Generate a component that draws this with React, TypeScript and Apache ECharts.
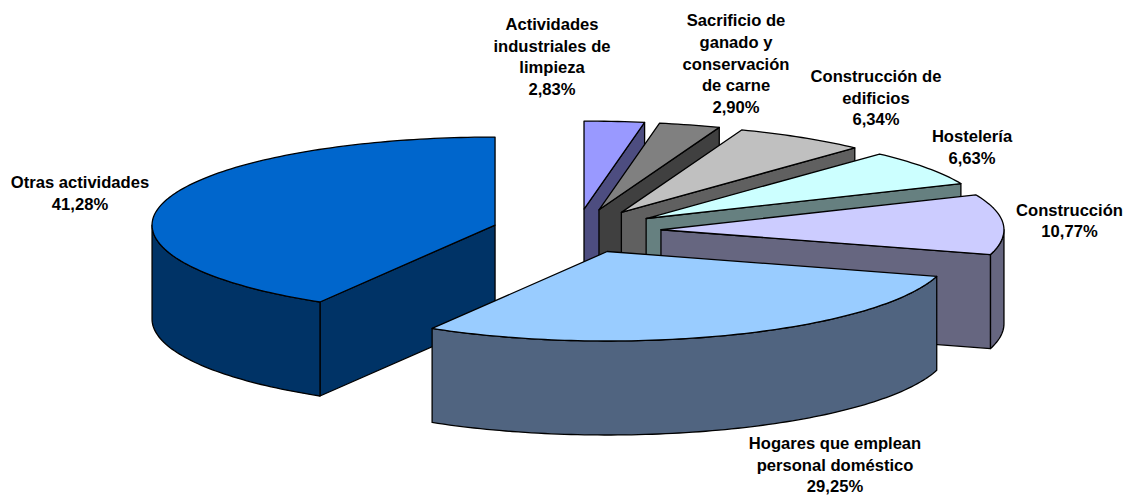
import React, { useEffect, useRef } from "react";
import * as echarts from "echarts";

const categories = [
  "Actividades industriales de limpieza",
  "Sacrificio de ganado y conservación de carne",
  "Construcción de edificios",
  "Hostelería",
  "Construcción",
  "Hogares que emplean personal doméstico",
  "Otras actividades",
];
const values = [2.83, 2.9, 6.34, 6.63, 10.77, 29.25, 41.28];
const topColors = ["#9999FF", "#808080", "#C0C0C0", "#CCFFFF", "#CCCCFF", "#99CCFF", "#0066CC"];
const sideColors = ["#4D4D80", "#404040", "#606060", "#668080", "#666680", "#506480", "#003366"];
const labelLines = [
  ["Actividades", "industriales de", "limpieza"],
  ["Sacrificio de", "ganado y", "conservación", "de carne"],
  ["Construcción de", "edificios"],
  ["Hostelería"],
  ["Construcción"],
  ["Hogares que emplean", "personal doméstico"],
  ["Otras actividades"],
];
const labelCentres = [
  [552, 57],
  [736, 64],
  [876, 98],
  [972, 147.5],
  [1069.5, 221],
  [835, 465],
  [80, 193.5],
];

const CX = 576.5;
const CY = 231;
const RX = 343;
const RY_BACK = 88;
const RY_FRONT = 89.5;
const EX = 84.6;
const EY = 22;
const DEPTH = 94;
const WARP_FRONT = (0.79 * Math.PI) / 180;
const WARP_BACK = (1.2 * Math.PI) / 180;
const DRAW_ORDER = [6, 0, 1, 2, 3, 4, 5];

const fmt = (v: number) => v.toFixed(2).replace(".", ",") + "%";

function renderSlice(params: any, api: any) {
  const i = api.value(0);
  const total = values.reduce((a, b) => a + b, 0);
  const before = values.slice(0, i).reduce((a, b) => a + b, 0);
  const a0 = (before / total) * Math.PI * 2;
  const a1 = ((before + api.value(1)) / total) * Math.PI * 2;
  const mid = (a0 + a1) / 2;
  const ax = CX + EX * Math.sin(mid);
  const ay = CY - EY * Math.cos(mid);
  const pt = (t: number, dz = 0) => {
    let u = t;
    if (t > Math.PI && t < (Math.PI * 3) / 2) {
      u = t - WARP_FRONT * Math.sin(2 * (t - Math.PI));
    } else if (t > 0 && t < Math.PI / 2) {
      u = t - WARP_BACK * Math.sin(2 * t) * Math.sin(t) ** 2;
    }
    const c = Math.cos(u);
    return [ax + RX * Math.sin(u), ay - (c > 0 ? RY_BACK : RY_FRONT) * c + dz];
  };
  const arc = (from: number, to: number, dz = 0) => {
    const n = Math.max(2, Math.ceil(Math.abs(to - from) / 0.02));
    const out: number[][] = [];
    for (let k = 0; k <= n; k++) out.push(pt(from + ((to - from) * k) / n, dz));
    return out;
  };
  const edge = { stroke: "#000000", lineWidth: 1.3, lineJoin: "round" };
  const children: any[] = [];
  const side = (points: number[][]) =>
    children.push({ type: "polygon", shape: { points }, style: { fill: sideColors[i], ...edge } });
  if (Math.sin(a0) < 0) {
    side([[ax, ay], pt(a0), pt(a0, DEPTH), [ax, ay + DEPTH]]);
  }
  if (Math.sin(a1) > 0) {
    side([[ax, ay], pt(a1), pt(a1, DEPTH), [ax, ay + DEPTH]]);
  }
  const s0 = Math.max(a0, Math.PI / 2);
  const s1 = Math.min(a1, (Math.PI * 3) / 2);
  if (s1 > s0) {
    side([...arc(s0, s1), ...arc(s1, s0, DEPTH)]);
  }
  children.push({
    type: "polygon",
    shape: { points: [[ax, ay], ...arc(a0, a1)] },
    style: { fill: topColors[i], ...edge },
  });
  return { type: "group", children };
}

export default function App() {
  const ref = useRef<HTMLDivElement>(null);
  useEffect(() => {
    const chart = echarts.init(ref.current!, undefined, { renderer: "svg" });
    const font = {
      fontFamily: "Liberation Sans",
      fontWeight: "bold",
      fontSize: 16.6,
      lineHeight: 21.7,
      fill: "#000000",
      textAlign: "center",
      textVerticalAlign: "middle",
    };
    chart.setOption({
      animation: false,
      backgroundColor: "#ffffff",
      graphic: categories.map((_, i) => ({
        type: "text",
        x: labelCentres[i][0],
        y: labelCentres[i][1],
        z: 10,
        style: { ...font, text: [...labelLines[i], fmt(values[i])].join("\n") },
      })),
      series: [
        {
          type: "custom",
          coordinateSystem: "none",
          renderItem: renderSlice,
          silent: true,
          data: DRAW_ORDER.map((i) => [i, values[i]]),
          encode: { value: [1] },
        },
      ],
    });
    return () => chart.dispose();
  }, []);
  return <div ref={ref} style={{ position: "fixed", left: 0, top: 0, width: 1123, height: 496 }} />;
}
